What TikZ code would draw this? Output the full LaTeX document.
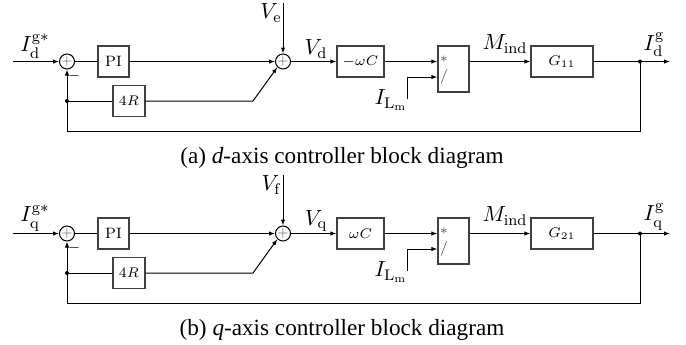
\documentclass[tikz,border=0pt]{standalone}
\usepackage{fontspec}
\newfontfamily\capfont{Liberation Serif}
\usetikzlibrary{arrows.meta,calc}
\tikzset{
 blk/.style={draw=black!75, line width=0.6pt, minimum height=15.5pt, inner sep=0pt, font=\fontsize{7.5}{9}\selectfont},
 sumnode/.style={circle, draw, line width=0.5pt, minimum size=7.5pt, inner sep=0pt, text=black!60, font=\fontsize{6}{7}\selectfont},
 sig/.style={line width=0.5pt},
 arr/.style={sig, -{Latex[length=3pt,width=2.2pt]}},
 dotn/.style={circle, fill, inner sep=0pt, minimum size=2pt},
 lab/.style={font=\fontsize{11}{13}\selectfont, inner sep=0pt},
 small/.style={font=\fontsize{7.5}{9}\selectfont, inner sep=0pt},
 captext/.style={font=\capfont\fontsize{11.6}{13}\selectfont, inner sep=0pt, anchor=base},
}
\newcommand\supup[1]{\raisebox{0.8pt}{$\scriptstyle #1$}}
\newcommand\subdn[1]{\raisebox{-0.6pt}{$\scriptstyle #1$}}
% #1 prefix, #2 yshift, #3 axis, #4 disturbance, #5 gain, #6 G index, #7 letter
\newcommand\ctrldiag[7]{%
\begin{scope}[yshift=#2]
 \coordinate (#1in) at (13,61.5);
 \node[sumnode] (#1s1) at (67,61.5) {$+$};
 \draw[arr] (#1in) -- (#1s1);
 \node[lab] (#1lin) at (35,46) {$I_{\subdn{\mathrm{#3}}}^{\supup{\mathrm{g}*}}$};
 \node[blk, minimum width=15.5pt] (#1pi) at (113.5,61.5) {PI};
 \draw[sig] (#1s1) -- (#1pi);
 \node[sumnode] (#1s2) at (283,61.5) {$+$};
 \draw[arr] (#1pi) -- (#1s2);
 \coordinate (#1v) at (283,3);
 \draw[arr] (#1v) -- (#1s2);
 \node[lab] (#1lv) at (271,13) {$V_\mathrm{#4}$};
 \node[blk, minimum width=23.5pt] (#1wc) at (360.5,61.5) {$#5$};
 \draw[arr] (#1s2) -- (#1wc);
 \node[lab] (#1lvd) at (316,49) {$V_\mathrm{#3}$};
 \node[blk, minimum width=15.5pt, minimum height=23pt] (#1dv) at (453.5,69) {};
 \node[small, text=black!70] (#1mul) at (444,59) {$*$};
 \node[small, text=black!70] (#1div) at (444,77) {/};
 \draw[arr] (#1wc.east) -- (#1wc.east -| #1dv.west);
 \coordinate (#1il) at (407,99);
 \draw[arr] (#1il) |- ($(#1dv.west)+(0,8)$);
 \node[lab] (#1lil) at (391,100) {$I_{\mathrm{L_m}}$};
 \node[blk, minimum width=31pt] (#1g) at (562,61.5) {$G_{#6}$};
 \draw[arr] (#1dv.east |- #1g.west) -- (#1g.west);
 \node[lab] (#1lm) at (505,44) {$M_{\mathrm{ind}}$};
 \coordinate (#1out) at (670,61.5);
 \node[dotn] (#1d1) at (640,61.5) {};
 \draw[arr] (#1g) -- (#1out);
 \node[lab] (#1lout) at (654,45) {$I_{\subdn{\mathrm{#3}}}^{\supup{\mathrm{g}}}$};
 \coordinate (#1fb) at (67,131);
 \draw[arr] (#1d1.center) |- (#1fb) -- (#1s1.south);
 \node[dotn] (#1d2) at (67,101) {};
 \node[blk, minimum width=16pt] (#1r) at (129,101) {$4R$};
 \draw[sig] (#1d2.center) -- (#1r);
 \coordinate (#1bk) at (253,101);
 \draw[arr] (#1r) -- (#1bk) -- (#1s2.south west);
 \node[small] (#1minus) at (74,76) {$-$};
 \node[captext] (#1cap) at (342,163) {(#7) \textit{#3}-axis controller block diagram};
\end{scope}}
\begin{document}
\begin{tikzpicture}[x=0.5pt,y=-0.5pt]
\useasboundingbox (0,0) rectangle (686,344);
\ctrldiag{a}{0pt}{d}{e}{-\omega C}{11}{a}
\ctrldiag{b}{-86pt}{q}{f}{\omega C}{21}{b}
\end{tikzpicture}
\end{document}
